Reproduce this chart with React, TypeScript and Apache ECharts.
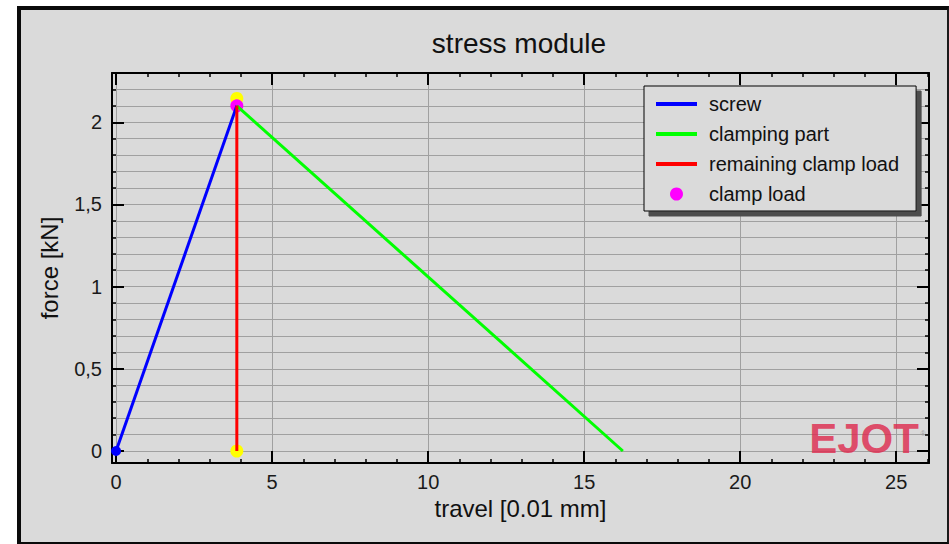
import React, { useEffect, useRef } from 'react';
import * as echarts from 'echarts';

// ---- data ----
const seriesNames = ['screw', 'clamping part', 'remaining clamp load', 'clamp load'];
const seriesColors = ['#0000ff', '#00ff00', '#ff0000', '#ff00ff'];
const screwLine = [[0, 0], [3.87, 2.1]];
const clampingLine = [[3.87, 2.1], [16.24, 0]];
const remainingLine = [[3.87, 0], [3.87, 2.1]];
const clampLoadPoint = [[3.87, 2.1]];
const markerPoints = [[3.87, 2.145], [3.87, 0]];
const screwStart = [[0, 0]];
const xRange = [-0.13, 26.05];
const yRange = [-0.073, 2.3];
const xLabelStep = 5;
const yLabelStep = 0.5;
const titleText = 'stress module';
const xName = 'travel [0.01 mm]';
const yName = 'force [kN]';
const logoText = 'EJOT';

const FONT = '"Liberation Sans", Arial, sans-serif';
const GRID = '#a0a0a0';

const isStep = (v: number, step: number) => Math.abs(v / step - Math.round(v / step)) < 1e-6;

export default function App() {
  const ref = useRef<HTMLDivElement>(null);
  useEffect(() => {
    if (!ref.current) return;
    const chart = echarts.init(ref.current, null, { renderer: 'svg' });
    const tickCommon = {
      axisLine: { show: true, onZero: false, lineStyle: { color: '#000', width: 2 } },
      axisTick: { show: true, inside: true, length: 12, lineStyle: { color: '#000', width: 2 } },
      minorTick: { show: true, splitNumber: 5, length: 4, lineStyle: { color: '#000', width: 1.5 } },
    };
    chart.setOption({
      animation: false,
      backgroundColor: 'transparent',
      textStyle: { fontFamily: FONT },
      grid: { left: 112, top: 73, right: 20, bottom: 81, outerBoundsMode: 'none' },
      legend: {
        data: seriesNames.map((n, i) =>
          i < 3
            ? { name: n, itemStyle: { opacity: 0 }, lineStyle: { width: 4, color: seriesColors[i] } }
            : { name: n, itemStyle: { opacity: 1, color: seriesColors[i] } }
        ),
        orient: 'vertical',
        left: 644,
        top: 86,
        padding: [8, 17, 7, 10],
        itemWidth: 41,
        itemHeight: 13,
        itemGap: 10,
        backgroundColor: '#dadada',
        borderColor: '#000',
        borderWidth: 1,
        shadowColor: '#4d4d4d',
        shadowOffsetX: 5,
        shadowOffsetY: 5,
        shadowBlur: 0,
        selectedMode: false,
        textStyle: { fontFamily: FONT, fontSize: 20, color: '#111', padding: [0, 0, 0, 7] },
      },
      graphic: [
        {
          type: 'text', x: 519, y: 43.5, z: 10,
          style: { text: titleText, font: `28px ${FONT}`, fill: '#111', textAlign: 'center', textVerticalAlign: 'middle' },
        },
        {
          type: 'text', x: 864, y: 438, z: 10,
          style: { text: logoText, font: `bold 42px ${FONT}`, fill: 'rgba(222,45,80,0.82)', textAlign: 'center', textVerticalAlign: 'middle' },
        },
        {
          type: 'text', x: 923, y: 433, z: 10,
          style: { text: '®', font: `7px ${FONT}`, fill: 'rgba(150,150,150,0.9)', textAlign: 'center', textVerticalAlign: 'middle' },
        },
      ],
      xAxis: [
        {
          type: 'value', position: 'bottom', min: xRange[0], max: xRange[1], splitNumber: 5,
          name: xName, nameLocation: 'middle', nameGap: 33, nameMoveOverlap: false,
          nameTextStyle: { fontFamily: FONT, fontSize: 24, color: '#111' },
          ...tickCommon,
          axisLabel: {
            show: true, margin: 9, fontFamily: FONT, fontSize: 20, color: '#1a1a1a',
            formatter: (v: number) => (isStep(v, xLabelStep) ? String(Math.round(v)) : ''),
          },
          splitLine: { show: true, lineStyle: { color: GRID, width: 1 } },
          minorSplitLine: { show: false },
        },
        {
          type: 'value', position: 'top', min: xRange[0], max: xRange[1], splitNumber: 5,
          ...tickCommon,
          axisLabel: { show: false },
          splitLine: { show: false },
        },
      ],
      yAxis: [
        {
          type: 'value', position: 'left', min: yRange[0], max: yRange[1], splitNumber: 5,
          name: yName, nameLocation: 'middle', nameGap: 51, nameMoveOverlap: false,
          nameTextStyle: { fontFamily: FONT, fontSize: 24, color: '#111' },
          ...tickCommon,
          axisLabel: {
            show: true, margin: 10, fontFamily: FONT, fontSize: 20, color: '#1a1a1a',
            formatter: (v: number) =>
              isStep(v, yLabelStep) ? String(Math.round(v / yLabelStep) * yLabelStep).replace('.', ',') : '',
          },
          splitLine: { show: true, lineStyle: { color: GRID, width: 1 } },
          minorSplitLine: { show: true, lineStyle: { color: GRID, width: 1 } },
        },
        {
          type: 'value', position: 'right', min: yRange[0], max: yRange[1], splitNumber: 5,
          ...tickCommon,
          axisLabel: { show: false },
          splitLine: { show: false },
        },
      ],
      series: [
        {
          name: seriesNames[0], type: 'line', data: screwLine, symbol: 'none',
          lineStyle: { color: seriesColors[0], width: 3 }, itemStyle: { color: seriesColors[0] },
        },
        {
          name: seriesNames[1], type: 'line', data: clampingLine, symbol: 'none',
          lineStyle: { color: seriesColors[1], width: 3 }, itemStyle: { color: seriesColors[1] },
        },
        {
          name: seriesNames[2], type: 'line', data: remainingLine, symbol: 'none',
          lineStyle: { color: seriesColors[2], width: 3 }, itemStyle: { color: seriesColors[2] },
        },
        {
          name: 'screw start', type: 'scatter', data: screwStart, symbol: 'circle', symbolSize: 10,
          itemStyle: { color: seriesColors[0], opacity: 1 },
        },
        {
          name: 'markers', type: 'scatter', data: markerPoints, symbol: 'circle', symbolSize: 13,
          itemStyle: { color: '#ffff00', opacity: 1 },
        },
        {
          name: seriesNames[3], type: 'scatter', data: clampLoadPoint, symbol: 'circle', symbolSize: 13,
          itemStyle: { color: seriesColors[3], opacity: 1 },
        },
      ],
    });
    return () => chart.dispose();
  }, []);

  return (
    <div style={{ position: 'absolute', left: 0, top: 0, width: 949, height: 544, overflow: 'hidden', background: '#fff' }}>
      <div
        style={{
          position: 'absolute', left: 17, top: 6, width: 932, height: 538, boxSizing: 'border-box',
          background: '#dadada', borderLeft: '4px solid #0a0a0a', borderTop: '4px solid #0a0a0a',
          borderRight: '2px solid #1a1a1a', borderBottom: '2px solid #0a0a0a',
        }}
      />
      <div ref={ref} style={{ position: 'absolute', left: 0, top: 0, width: 949, height: 544 }} />
    </div>
  );
}
